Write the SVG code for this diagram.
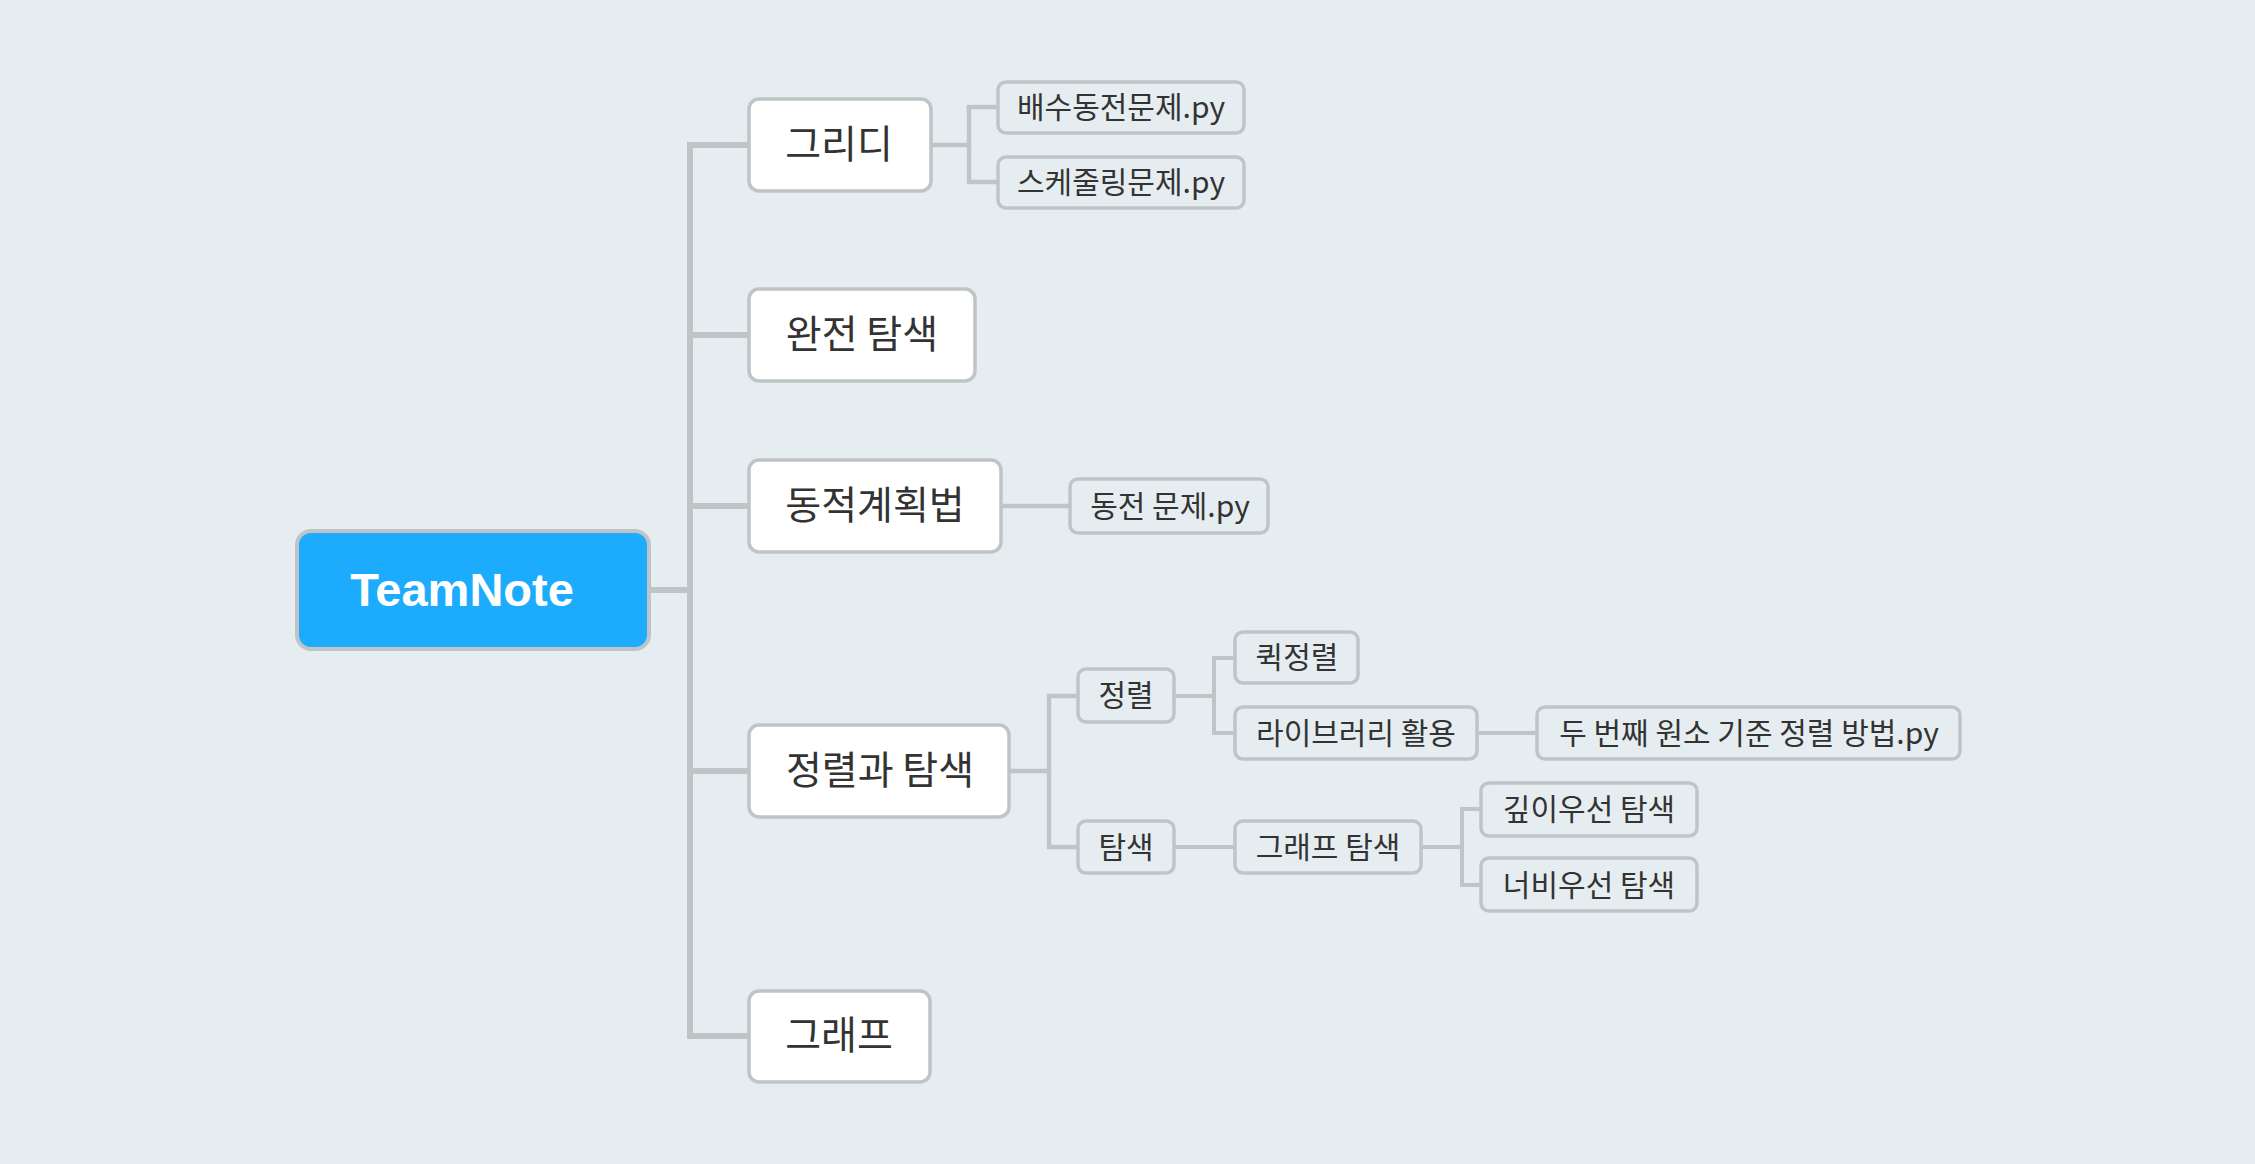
<svg xmlns="http://www.w3.org/2000/svg" width="2255" height="1164" viewBox="0 0 2255 1164">
<style>
.bg{fill:#E6EDF1}
.root{fill:#1DACFD;stroke:#BFC4C7;stroke-width:4}
.l1{fill:#FFFFFF;stroke:#BFC4C7;stroke-width:3.5}
.l2{fill:#E6EDF1;stroke:#BFC4C7;stroke-width:3.5}
.rt{font-family:"Liberation Sans",Arial,sans-serif;font-weight:bold;font-size:47px;fill:#FFFFFF;text-anchor:middle}
.t1{font-family:"Noto Sans CJK KR","Noto Sans",sans-serif;font-size:39px;fill:#333333;text-anchor:middle}
.t2{font-family:"Noto Sans CJK KR","Noto Sans",sans-serif;font-size:30px;fill:#333333;text-anchor:middle}
.c0{fill:none;stroke:#BFC4C7;stroke-width:6}
.c1{fill:none;stroke:#BFC4C7;stroke-width:4.5}
.c2{fill:none;stroke:#BFC4C7;stroke-width:4}
</style>
<rect class="bg" x="0" y="0" width="2255" height="1164"/>
<g id="connectors">
<path class="c0" d="M650,590 H690 V145 H749"/>
<path class="c0" d="M690,590 V335 H749"/>
<path class="c0" d="M690,590 V506 H749"/>
<path class="c0" d="M690,590 V771 H749"/>
<path class="c0" d="M690,590 V1036 H749"/>
<path class="c1" d="M931,145 H969 V107 H998"/>
<path class="c1" d="M969,145 V182 H998"/>
<path class="c1" d="M1001,506 H1070"/>
<path class="c1" d="M1009,771 H1049 V696 H1078"/>
<path class="c1" d="M1049,771 V847 H1078"/>
<path class="c2" d="M1174,696 H1214 V658 H1235"/>
<path class="c2" d="M1214,696 V733 H1235"/>
<path class="c2" d="M1477,733 H1537"/>
<path class="c2" d="M1174,847 H1235"/>
<path class="c2" d="M1421,847 H1462 V809 H1481"/>
<path class="c2" d="M1462,847 V885 H1481"/>
</g>
<g id="teamnote"><rect class="root" x="297" y="531" width="352" height="118" rx="14"/><text class="rt" x="462" y="606">TeamNote</text></g>
<g id="greedy"><rect class="l1" x="749" y="99" width="182" height="92" rx="10"/><text class="t1" x="839" y="158">그리디</text></g>
<g id="greedy-1"><rect class="l2" x="998" y="82" width="246" height="51" rx="8"/><text class="t2" x="1121" y="118">배수동전문제.py</text></g>
<g id="greedy-2"><rect class="l2" x="998" y="157" width="246" height="51" rx="8"/><text class="t2" x="1121" y="193">스케줄링문제.py</text></g>
<g id="brute"><rect class="l1" x="749" y="289" width="226" height="92" rx="10"/><text class="t1" x="862" y="348">완전 탐색</text></g>
<g id="dp"><rect class="l1" x="749" y="460" width="252" height="92" rx="10"/><text class="t1" x="875" y="519">동적계획법</text></g>
<g id="dp-1"><rect class="l2" x="1070" y="479" width="198" height="54" rx="8"/><text class="t2" x="1170" y="517">동전 문제.py</text></g>
<g id="sortsearch"><rect class="l1" x="749" y="725" width="260" height="92" rx="10"/><text class="t1" x="880" y="784">정렬과 탐색</text></g>
<g id="sort"><rect class="l2" x="1078" y="669" width="96" height="53" rx="8"/><text class="t2" x="1126" y="706">정렬</text></g>
<g id="quick"><rect class="l2" x="1235" y="632" width="123" height="51" rx="8"/><text class="t2" x="1297" y="668">퀵정렬</text></g>
<g id="lib"><rect class="l2" x="1235" y="707" width="242" height="52" rx="8"/><text class="t2" x="1356" y="744">라이브러리 활용</text></g>
<g id="lib-1"><rect class="l2" x="1537" y="707" width="423" height="52" rx="8"/><text class="t2" x="1749" y="744">두 번째 원소 기준 정렬 방법.py</text></g>
<g id="search"><rect class="l2" x="1078" y="821" width="96" height="52" rx="8"/><text class="t2" x="1126" y="858">탐색</text></g>
<g id="graphsearch"><rect class="l2" x="1235" y="821" width="186" height="52" rx="8"/><text class="t2" x="1328" y="858">그래프 탐색</text></g>
<g id="dfs"><rect class="l2" x="1481" y="783" width="216" height="53" rx="8"/><text class="t2" x="1589" y="820">깊이우선 탐색</text></g>
<g id="bfs"><rect class="l2" x="1481" y="858" width="216" height="53" rx="8"/><text class="t2" x="1589" y="896">너비우선 탐색</text></g>
<g id="graph"><rect class="l1" x="749" y="991" width="181" height="91" rx="10"/><text class="t1" x="839" y="1049">그래프</text></g>
</svg>
